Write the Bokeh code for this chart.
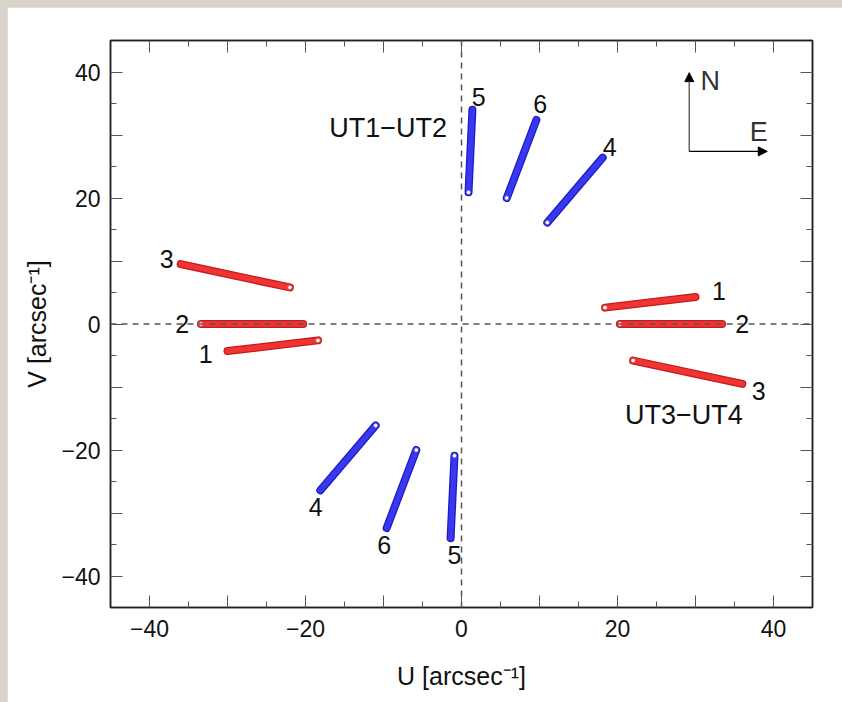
from bokeh.plotting import figure
from bokeh.models import (Range1d, FixedTicker, LinearAxis, Arrow, NormalHead,
                          ColumnDataSource, Span, CustomLabelingPolicy)
from bokeh.layouts import column
from bokeh.core.properties import value
from bokeh.embed import file_html
from bokeh.resources import INLINE

# ---- data ----
# UT3-UT4 tracks (red): start point (marked end) and end point
red_names = ["1", "2", "3", "1", "2", "3"]
red_u0 = [18.4, 20.3, 22.0, -18.4, -33.4, -22.0]
red_v0 = [2.6, 0.0, -5.8, -2.6, 0.0, 5.8]
red_u1 = [30.0, 33.4, 36.0, -30.0, -20.3, -36.0]
red_v1 = [4.3, 0.0, -9.5, -4.3, 0.0, 9.5]

# UT1-UT2 tracks (blue)
blue_names = ["4", "5", "6", "4", "5", "6"]
blue_u0 = [11.0, 0.9, 5.8, -11.0, -0.9, -5.8]
blue_v0 = [16.1, 20.9, 20.0, -16.1, -20.9, -20.0]
blue_u1 = [18.1, 1.4, 9.6, -18.1, -1.4, -9.6]
blue_v1 = [26.4, 34.0, 32.4, -26.4, -34.0, -32.4]

# track number labels
lab_text = ["1", "2", "3", "3", "2", "1", "5", "6", "4", "4", "6", "5"]
lab_u = [33.0, 36.0, 38.1, -37.8, -35.8, -32.8, 2.2, 10.1, 19.0, -18.7, -9.9, -0.9]
lab_v = [5.2, 0.0, -10.7, 10.3, 0.0, -4.8, 36.0, 34.9, 28.1, -29.0, -35.0, -36.6]

baseline_text = ["UT1\u2212UT2", "UT3\u2212UT4"]
baseline_u = [-9.4, 28.5]
baseline_v = [31.1, -14.5]

major_ticks = [-40, -30, -20, -10, 0, 10, 20, 30, 40]
minor_ticks = [-35, -25, -15, -5, 5, 15, 25, 35]
tick_labels = {-40: "\u221240", -30: "", -20: "\u221220", -10: "", 0: "0",
               10: "", 20: "20", 30: "", 40: "40"}

FONT = "Liberation Sans"

p = figure(width=835, height=695, x_range=Range1d(-45, 45), y_range=Range1d(-45, 45),
           output_backend="svg", toolbar_location=None,
           min_border_left=103, min_border_top=33, min_border_right=30, min_border_bottom=95,
           background_fill_color="white", border_fill_color="white")
p.margin = (7, 0, 0, 7)
p.xgrid.visible = False
p.ygrid.visible = False
p.outline_line_color = "#222222"
p.outline_line_width = 1.5

p.add_layout(LinearAxis(), "right")
p.add_layout(LinearAxis(), "above")

for ax in p.axis:
    ax.ticker = FixedTicker(ticks=major_ticks, minor_ticks=minor_ticks)
    ax.major_label_overrides = tick_labels
    ax.major_tick_in = 12
    ax.major_tick_out = 0
    ax.minor_tick_in = 6
    ax.minor_tick_out = 0
    ax.axis_line_color = "#222222"
    ax.axis_line_width = 1.5
    ax.major_tick_line_color = "#555555"
    ax.minor_tick_line_color = "#555555"
    ax.major_label_text_font = FONT
    ax.major_label_text_font_size = "23px"
    ax.major_label_text_color = "#111111"
    ax.axis_label_text_font = FONT
    ax.axis_label_text_font_size = "25px"
    ax.axis_label_text_font_style = "normal"
    ax.axis_label_text_color = "#111111"

for ax in (p.right[0], p.above[0]):
    ax.major_label_policy = CustomLabelingPolicy(code="return []")
    ax.major_label_standoff = 0
    ax.major_label_text_font_size = "8px"

p.below[0].axis_label = "U [arcsec\u207b\u00b9]"
p.left[0].axis_label = "V [arcsec\u207b\u00b9]"
p.below[0].major_label_standoff = 12
p.below[0].axis_label_standoff = 22
p.left[0].major_label_standoff = 10
p.left[0].axis_label_standoff = 7

# tracks
red_src = ColumnDataSource(dict(u0=red_u0, v0=red_v0, u1=red_u1, v1=red_v1))
blue_src = ColumnDataSource(dict(u0=blue_u0, v0=blue_v0, u1=blue_u1, v1=blue_v1))

p.segment("u0", "v0", "u1", "v1", source=red_src, line_color="#c41c1c",
          line_width=8, line_cap="round")
p.segment("u0", "v0", "u1", "v1", source=red_src, line_color="#f03434",
          line_width=5.5, line_cap="round")
p.scatter("u0", "v0", source=red_src, size=4.5, fill_color="white",
          line_color="#e05050", line_width=1)

p.segment("u0", "v0", "u1", "v1", source=blue_src, line_color="#1c1cc0",
          line_width=8, line_cap="round")
p.segment("u0", "v0", "u1", "v1", source=blue_src, line_color="#3838f0",
          line_width=5.5, line_cap="round")
p.scatter("u0", "v0", source=blue_src, size=4.5, fill_color="white",
          line_color="#5050e0", line_width=1)

# zero lines (drawn over tracks)
p.add_layout(Span(location=0, dimension="width", line_color="#555555",
                  line_dash="6 5", line_width=1.5))
p.add_layout(Span(location=0, dimension="height", line_color="#555555",
                  line_dash="6 5", line_width=1.5))

# labels
p.text(lab_u, lab_v, text=lab_text, text_font=value(FONT), text_font_size="25px",
       text_align="center", text_baseline="middle", text_color="#111111")
p.text(baseline_u, baseline_v, text=baseline_text, text_font=value(FONT),
       text_font_size="27px", text_align="center", text_baseline="middle",
       text_color="#111111")

# compass
p.add_layout(Arrow(x_start=29.2, y_start=27.4, x_end=29.2, y_end=39.9,
                   line_color="#666666", line_width=1.5,
                   end=NormalHead(size=9, fill_color="black", line_color="black")))
p.add_layout(Arrow(x_start=29.2, y_start=27.4, x_end=39.2, y_end=27.4,
                   line_color="black", line_width=1.2,
                   end=NormalHead(size=9, fill_color="black", line_color="black")))
p.text([31.9, 38.1], [38.6, 30.4], text=["N", "E"], text_font=value(FONT),
       text_font_size="27px", text_align="center", text_baseline="middle",
       text_color="#333333")

layout = column(p, width=842, height=702, sizing_mode="fixed",
                styles={"background-color": "#d8d4cc"})

open("out.html", "w").write(file_html(layout, INLINE))
